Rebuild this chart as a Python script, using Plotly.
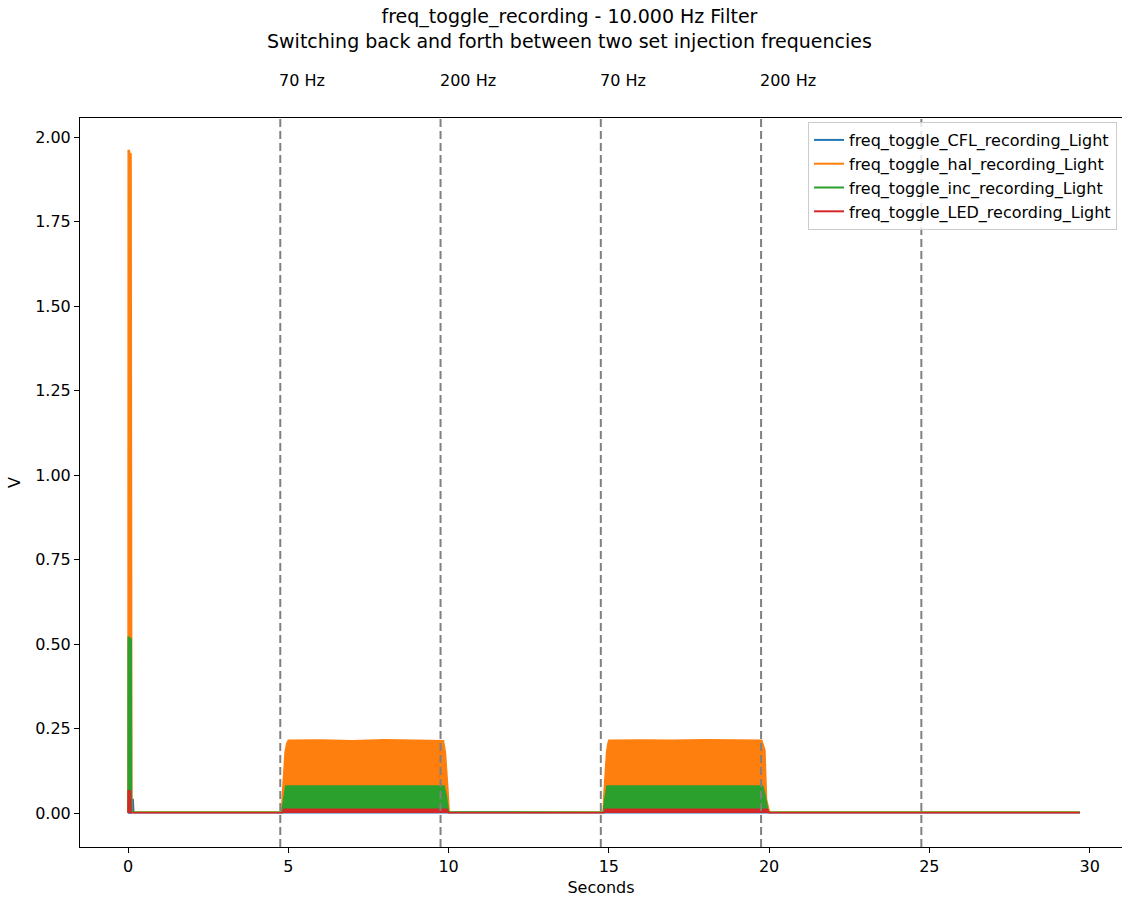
import plotly.graph_objects as go

# Envelope samples (seconds, volts) for each light recording.
# The injected signal oscillates between zero and the envelope, so each trace is filled down to 0 V.
cfl_t = [0.0, 0.10, 0.12, 0.16, 0.18, 29.7]
cfl_v = [0.0, 0.0, 0.04, 0.04, 0.001, 0.001]

hal_t = [0.0, 0.005, 0.04, 0.06, 0.095, 0.105, 0.12, 0.2,
         4.79, 4.82, 4.86, 4.90, 4.95, 5.0, 6.0, 7.0, 8.0, 9.0, 9.84, 9.90, 9.94, 9.98, 10.02,
         14.82, 14.85, 14.89, 14.93, 14.97, 15.0, 16.0, 17.0, 18.0, 19.0, 19.77, 19.87, 19.92, 20.01,
         29.7]
hal_v = [0.0, 1.96, 1.96, 1.95, 1.95, 0.30, 0.004, 0.003,
         0.003, 0.06, 0.13, 0.18, 0.205, 0.215, 0.216, 0.214, 0.217, 0.215, 0.214, 0.18, 0.137, 0.07, 0.003,
         0.003, 0.06, 0.13, 0.18, 0.205, 0.215, 0.216, 0.215, 0.217, 0.215, 0.215, 0.186, 0.04, 0.003,
         0.003]

inc_t = [0.0, 0.005, 0.05, 0.06, 0.10, 0.11, 0.2,
         4.80, 4.84, 4.88, 4.92, 9.86, 9.93, 10.0,
         14.83, 14.86, 14.90, 14.94, 19.80, 19.88, 19.97,
         29.7]
inc_v = [0.0, 0.52, 0.52, 0.515, 0.515, 0.005, 0.002,
         0.002, 0.03, 0.065, 0.08, 0.08, 0.05, 0.003,
         0.002, 0.03, 0.065, 0.08, 0.08, 0.05, 0.003,
         0.002]

led_t = [0.0, 0.005, 0.08, 0.09, 4.82, 4.86, 9.95, 10.0, 14.85, 14.89, 19.95, 20.0, 29.7]
led_v = [0.0, 0.066, 0.066, 0.001, 0.001, 0.011, 0.011, 0.001, 0.001, 0.011, 0.011, 0.001, 0.001]

series_names = ["freq_toggle_CFL_recording_Light", "freq_toggle_hal_recording_Light",
                "freq_toggle_inc_recording_Light", "freq_toggle_LED_recording_Light"]
series_t = [cfl_t, hal_t, inc_t, led_t]
series_v = [cfl_v, hal_v, inc_v, led_v]
colors = ["#1f77b4", "#ff7f0e", "#2ca02c", "#d62728"]

# Frequency switch markers
switch_t = [4.75, 9.75, 14.75, 19.75, 24.75]
switch_labels = ["70 Hz", "200 Hz", "70 Hz", "200 Hz"]

x_ticks = [0, 5, 10, 15, 20, 25, 30]
y_ticks = [0.0, 0.25, 0.5, 0.75, 1.0, 1.25, 1.5, 1.75, 2.0]

FONT = "DejaVu Sans"

fig = go.Figure()
for name, t, v, c in zip(series_names, series_t, series_v, colors):
    fig.add_trace(go.Scatter(x=t, y=v, mode="lines", fill="tozeroy", fillcolor=c,
                             line=dict(color=c, width=1.5), name=name, showlegend=False,
                             hoverinfo="skip"))
for name, c in zip(series_names, colors):
    fig.add_trace(go.Scatter(x=[None], y=[None], mode="lines", line=dict(color=c, width=2),
                             name=name, showlegend=True))

for t in switch_t:
    fig.add_shape(type="line", xref="x", yref="paper", x0=t, x1=t, y0=0, y1=1,
                  line=dict(color="#808080", width=2, dash="8px,4px"), layer="above")

for t, lab in zip(switch_t, switch_labels):
    fig.add_annotation(x=t, y=1.052, xref="x", yref="paper", text=lab, showarrow=False,
                       xanchor="left", yanchor="middle", xshift=-3,
                       font=dict(family=FONT, size=16, color="black"))

fig.add_annotation(x=0.4693, y=1.1228, xref="paper", yref="paper",
                   text="freq_toggle_recording - 10.000 Hz Filter<br>Switching back and forth between two set injection frequencies",
                   showarrow=False, xanchor="center", yanchor="middle",
                   font=dict(family=FONT, size=19, color="black"))

fig.update_layout(
    width=1122, height=897,
    margin=dict(l=80, r=0, t=118, b=50),
    paper_bgcolor="white", plot_bgcolor="white",
    font=dict(family=FONT, size=16, color="black"),
    legend=dict(x=0.9952, y=0.9945, xanchor="right", yanchor="top",
                bgcolor="rgba(255,255,255,0.8)", bordercolor="#cccccc", borderwidth=1,
                font=dict(family=FONT, size=16, color="black")),
    xaxis=dict(range=[-1.498, 31.01], tickvals=x_ticks, showgrid=False, zeroline=False,
               showline=True, linecolor="black", linewidth=1, mirror=True,
               ticks="outside", ticklen=5, tickwidth=1, tickcolor="black",
               title=dict(text="Seconds", standoff=6, font=dict(size=16))),
    yaxis=dict(range=[-0.1006, 2.0562], tickvals=y_ticks, tickformat=".2f", showgrid=False,
               zeroline=False, showline=True, linecolor="black", linewidth=1, mirror=False,
               ticks="outside", ticklen=5, tickwidth=1, tickcolor="black",
               title=dict(text="V", standoff=10, font=dict(size=16))),
)

fig.write_html("out.html")
